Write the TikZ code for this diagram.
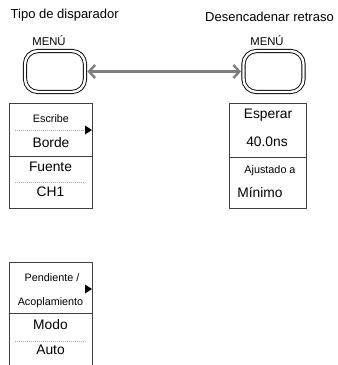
\documentclass[tikz,border=0pt]{standalone}
\usepackage{fontspec}
\setmainfont{Liberation Sans}
\usetikzlibrary{arrows.meta}
\definecolor{arrgray}{HTML}{7F7F7F}
\definecolor{dotgray}{HTML}{AAAAAA}
\tikzset{
  btn/.style={draw=black, line width=0.9pt, double=white, double distance=2.4pt,
    rounded corners=13pt, minimum width=60pt, minimum height=41pt, inner sep=0pt},
  boxline/.style={draw=black!75, line width=0.8pt},
  dotline/.style={draw=dotgray, line width=0.6pt, dash pattern=on 1pt off 1pt},
  big/.style={font=\fontsize{13.8}{14}\selectfont, inner sep=0pt},
  small/.style={font=\fontsize{10.8}{11}\selectfont, inner sep=0pt},
  ttl/.style={font=\fontsize{13}{13}\selectfont, inner sep=0pt},
  mnu/.style={font=\fontsize{11.3}{12}\selectfont, inner sep=0pt},
  tri/.style={fill=black, draw=none},
  dblarrow/.style={draw=arrgray, line width=2.4pt,
    {Straight Barb[length=6pt,width=13pt]}-{Straight Barb[length=6pt,width=13pt]}}
}
\begin{document}
\begin{tikzpicture}[x=1pt,y=-1pt]
\useasboundingbox (0,0) rectangle (338,365);
% titles
\node[ttl, anchor=west] (t1) at (10.5,15.5) {Tipo de disparador};
\node[ttl] (t2) at (269.5,17) {Desencadenar retraso};
\node[mnu] (m1) at (49,41) {MENÚ};
\node[mnu] (m2) at (267,41) {MENÚ};
% buttons
\node[btn] (lbtn) at (55,71.5) {};
\node[btn] (rbtn) at (273.5,71.5) {};
\draw[dblarrow, shorten <=2pt, shorten >=2pt] (lbtn.east) -- (rbtn.west);
% left box
\draw[boxline] (9,103) rectangle (92,208);
\draw[boxline] (9,156) -- (92,156);
\draw[dotline] (15,130) -- (85,130);
\draw[dotline] (15,182) -- (85,182);
\fill[tri] (85,125.5) -- (92,130) -- (85,134.5) -- cycle;
\node[small] (esc) at (51,119) {Escribe};
\node[big] (bor) at (51,143) {Borde};
\node[big] (fue) at (50.5,167) {Fuente};
\node[big] (ch1) at (50.5,192) {CH1};
% right box
\draw[boxline] (229,103) rectangle (306,208);
\draw[boxline] (229,157) -- (306,157);
\node[big] (esp) at (268,115) {Esperar};
\node[big] (ns) at (267,142) {40.0ns};
\node[small] (aju) at (270,171) {Ajustado a};
\node[big] (min) at (260,192) {Mínimo};
% bottom box
\draw[boxline] (9,365) -- (9,262) -- (92,262) -- (92,365);
\draw[boxline] (9,313) -- (92,313);
\draw[dotline] (15,341) -- (85,341);
\fill[tri] (85,284.5) -- (92,289) -- (85,293.5) -- cycle;
\node[small] (pen) at (52,278) {Pendiente /};
\node[small] (aco) at (50.5,303) {Acoplamiento};
\node[big] (mod) at (50.5,325) {Modo};
\node[big] (aut) at (50.5,350) {Auto};
\end{tikzpicture}
\end{document}
